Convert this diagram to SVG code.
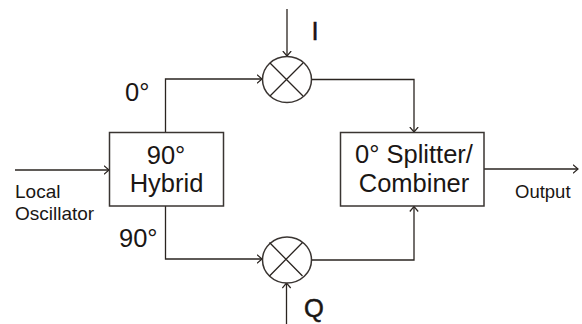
<svg xmlns="http://www.w3.org/2000/svg" width="582" height="324" viewBox="0 0 582 324">
<defs>
<marker id="arr" viewBox="0 0 6 10" refX="5.500" refY="5" markerWidth="6" markerHeight="10" markerUnits="userSpaceOnUse" orient="auto"><path d="M0.500 0.800L5.500 5L0.500 9.200" fill="none" stroke="#2a2420" stroke-width="1.200"/></marker>
</defs>
<style>
.l{fill:none;stroke:#2a2420;stroke-width:1.3}
.a{marker-end:url(#arr)}
.s{fill:#fff;stroke:#3a3532;stroke-width:1.5}
.t{font-family:"Liberation Sans",Arial,sans-serif;fill:#1a1614}
.b{font-size:25.500px}
.m{font-size:19px}
</style>
<rect width="582" height="324" fill="#fff"/>
<g id="connectors">
<path class="l a" d="M15 170H109"/>
<path class="l a" d="M165.500 132V79H262"/>
<path class="l a" d="M165.500 206V259H262"/>
<path class="l a" d="M287 9V56"/>
<path class="l a" d="M286.500 324V283"/>
<path class="l a" d="M312 79.500H414V132"/>
<path class="l a" d="M312 260H414V206.500"/>
<path class="l a" d="M484 169H578"/>
</g>
<g id="hybrid">
<rect class="s" x="109.500" y="132.500" width="114" height="73.500"/>
<text class="t b" x="166" y="164" text-anchor="middle">90°</text>
<text class="t b" x="166.500" y="192" text-anchor="middle">Hybrid</text>
</g>
<g id="combiner">
<rect class="s" x="340.500" y="132.500" width="143.500" height="73.500"/>
<text class="t b" x="414" y="163" text-anchor="middle">0° Splitter/</text>
<text class="t b" x="414" y="192" text-anchor="middle">Combiner</text>
</g>
<g id="mixer-i">
<ellipse class="s" cx="287" cy="79.500" rx="24.500" ry="23"/>
<path class="l" d="M270 63L303 96M303 63L270 96"/>
</g>
<g id="mixer-q">
<ellipse class="s" cx="287" cy="260" rx="24.500" ry="23"/>
<path class="l" d="M269.500 242.500L302.500 276M302.500 242.500L269.500 276"/>
</g>
<text class="t b" x="125" y="101">0°</text>
<text class="t b" x="119" y="247">90°</text>
<text class="t b" x="311.500" y="40" stroke="#1a1614" stroke-width="0.500">I</text>
<text class="t b" x="304" y="317" stroke="#1a1614" stroke-width="0.500">Q</text>
<text class="t m" x="15" y="198">Local</text>
<text class="t m" x="15" y="220">Oscillator</text>
<text class="t m" x="515" y="198" style="font-size:18.500px">Output</text>
</svg>
